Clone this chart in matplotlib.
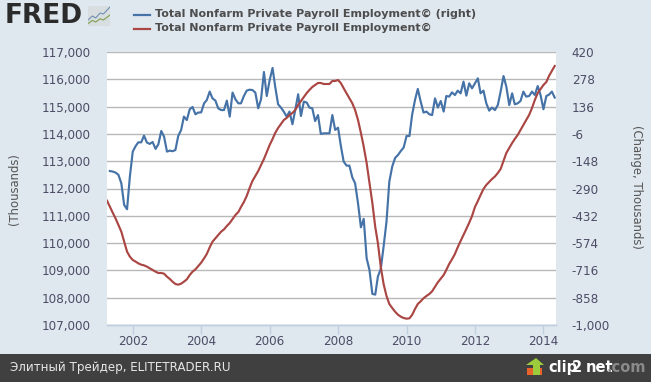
import matplotlib
matplotlib.use("Agg")
import matplotlib.pyplot as plt
import matplotlib.dates as mdates
from matplotlib.patches import Rectangle, Circle, Polygon
from matplotlib.ticker import FuncFormatter
import pandas as pd

W, H = 651, 382

# monthly levels, thousands (left axis), from Apr 2001
level = [111554, 111335, 111115, 110907, 110663, 110419, 110052, 109686, 109503, 109381,
         109320, 109259, 109210, 109185, 109137, 109076, 109015, 108953, 108905, 108905,
         108880, 108770, 108685, 108587, 108502, 108477, 108514, 108587, 108673, 108831,
         108953, 109039, 109161, 109283, 109442, 109601, 109845, 110052, 110175, 110297,
         110419, 110504, 110627, 110736, 110883, 111030, 111140, 111322, 111506, 111726,
         112018, 112275, 112458, 112641, 112861, 113081, 113337, 113594, 113814, 114035,
         114216, 114363, 114509, 114583, 114692, 114766, 114876, 115059, 115205, 115352,
         115498, 115608, 115718, 115791, 115865, 115865, 115828, 115828, 115828, 115938,
         115938, 115975, 115854, 115671, 115487, 115304, 115121, 114876, 114509, 114033,
         113531, 112934, 112202, 111469, 110590, 110004, 109125, 108502, 108063, 107769,
         107623, 107487, 107378, 107304, 107257, 107231, 107246, 107367, 107586, 107769,
         107868, 107978, 108063, 108136, 108235, 108403, 108564, 108696, 108832, 109015,
         109235, 109407, 109601, 109846, 110077, 110297, 110517, 110748, 110993, 111323,
         111542, 111762, 111982, 112129, 112238, 112348, 112440, 112568, 112715, 113008,
         113301, 113484, 113667, 113814, 113960, 114143, 114326, 114509, 114692, 114949,
         115242, 115498, 115645, 115791, 115901, 116121, 116304, 116487]

# monthly change, thousands (right axis), from May 2001
change = [-199, -202, -207, -219, -263, -375, -398, -228, -98, -69, -50, -50, -15, -51, -58,
          -48, -84, -60, 9, -20, -98, -93, -96, -90, -17, 14, 84, 66, 122, 134, 96, 105, 106,
          153, 170, 214, 179, 167, 127, 118, 118, 167, 84, 209, 174, 153, 153, 191, 219, 224,
          222, 209, 127, 174, 316, 191, 274, 337, 240, 148, 131, 110, 84, 110, 44, 118, 200,
          87, 162, 157, 131, 127, 61, 92, -6, -3, -3, -3, 92, 15, 26, -72, -150, -171, -171,
          -232, -263, -367, -492, -448, -653, -713, -838, -842, -748, -708, -592, -462, -254,
          -176, -131, -116, -95, -77, -17, -17, 92, 170, 228, 162, 105, 110, 96, 92, 179, 131,
          165, 110, 191, 188, 210, 196, 219, 205, 266, 193, 257, 231, 257, 283, 205, 219, 153,
          115, 131, 118, 144, 214, 295, 240, 144, 205, 148, 153, 165, 214, 188, 191, 214, 196,
          243, 196, 122, 191, 198, 214, 183]

left_ticks = [107000, 108000, 109000, 110000, 111000, 112000, 113000, 114000, 115000, 116000, 117000]
right_ticks = [-1000, -858, -716, -574, -432, -290, -148, -6, 136, 278, 420]
years = [2002, 2004, 2006, 2008, 2010, 2012, 2014]
name_right = "Total Nonfarm Private Payroll Employment© (right)"
name_left = "Total Nonfarm Private Payroll Employment©"

level_dates = pd.date_range("2001-04-01", periods=len(level), freq="MS")
change_dates = pd.date_range("2001-05-01", periods=len(change), freq="MS")

BG = "#dfe7ef"
BLUE = "#4572a7"
RED = "#aa4643"
GRID = "#b8b8b8"
AXIS = "#c0d0e0"
TXT = "#4d4d66"


def fx(x):
    return x / W


def fy(y):
    return 1 - y / H


fig = plt.figure(figsize=(W / 100, H / 100), dpi=100, facecolor=BG)

# ax_r holds the blue series and sits underneath so red is on top
ax_r = fig.add_axes([fx(107), fy(325), fx(556) - fx(107), fy(52) - fy(325)])
ax = ax_r.twinx()
ax_r.yaxis.tick_right()
ax.yaxis.tick_left()
ax.set_zorder(ax_r.get_zorder() + 1)
ax.patch.set_visible(False)
ax_r.set_facecolor("white")

ax_r.plot(change_dates, change, color=BLUE, lw=1.55, solid_joinstyle="round")
ax.plot(level_dates, level, color=RED, lw=1.55, solid_joinstyle="round")

ax.set_ylim(107000, 117000)
ax_r.set_ylim(-1000, 420)
ax.set_xlim(pd.Timestamp("2001-04-01"), pd.Timestamp("2014-05-15"))

ax.set_yticks(left_ticks)
ax.yaxis.set_major_formatter(FuncFormatter(lambda v, p: f"{int(v):,}"))
ax_r.set_yticks(right_ticks)
ax_r.set_yticklabels([f"{v:,}" for v in right_ticks])
ax.tick_params(axis="y", length=0, pad=11.5, labelsize=8.65, labelcolor=TXT)
ax_r.tick_params(axis="y", length=0, pad=11.3, labelsize=8.65, labelcolor=TXT)

ax_r.set_xticks([pd.Timestamp(f"{y}-01-01") for y in years])
ax_r.xaxis.set_major_formatter(mdates.DateFormatter("%Y"))
ax_r.tick_params(axis="x", length=6.3, width=1, color=AXIS, pad=1, labelsize=8.65, labelcolor=TXT)
ax.tick_params(axis="x", bottom=False, labelbottom=False)

ax_r.grid(axis="y", color=GRID, lw=1)
ax_r.set_axisbelow(True)
for a in (ax, ax_r):
    for s in ("top", "left", "right"):
        a.spines[s].set_visible(False)
    a.spines["bottom"].set_color(AXIS)
    a.spines["bottom"].set_linewidth(1)

fig.text(fx(15), fy(189), "(Thousands)", rotation=90, ha="center", va="center", fontsize=8.4, color="#555555")
fig.text(fx(637), fy(187), "(Change, Thousands)", rotation=270, ha="center", va="center", fontsize=8.4, color="#555555")

# legend, drawn by hand like the original header
fig.add_artist(plt.Line2D([fx(134), fx(150)], [fy(14.5), fy(14.5)], color=BLUE, lw=1.6))
fig.add_artist(plt.Line2D([fx(134), fx(150)], [fy(28.5), fy(28.5)], color=RED, lw=1.6))
fig.text(fx(155), fy(13.5), name_right, fontsize=8.05, fontweight="bold", color="#4d4d4d", va="center")
fig.text(fx(155), fy(27.5), name_left, fontsize=8.05, fontweight="bold", color="#4d4d4d", va="center")

# FRED logo
fig.text(fx(5), fy(16), "FRED", fontsize=19, fontweight="bold", color="#2b2b2b", va="center")
icon = fig.add_axes([fx(88), fy(26), fx(22), fy(6) - fy(26)])
icon.set_facecolor("#d5dadd")
icon.axis("off")
icon.add_patch(Rectangle((0, 0), 1, 1, color="#d8dde0", transform=icon.transAxes))
icon.plot([0, .2, .35, .55, .7, 1], [.3, .5, .4, .65, .6, .95], color="#6f8fb0", lw=.8)
icon.plot([0, .2, .35, .55, .7, 1], [.12, .28, .2, .36, .3, .55], color="#7f9f50", lw=.8)
icon.set_xlim(0, 1)
icon.set_ylim(0, 1)

# footer
fig.add_artist(Rectangle((0, 0), 1, fy(354), transform=fig.transFigure, color="#404040", lw=0))
fig.text(fx(10), fy(367.5), "Элитный Трейдер, ELITETRADER.RU", fontsize=8.6, color="#e6e6e6", va="center")

# clip2net mark
fig.add_artist(Polygon([(fx(527), fy(375)), (fx(527), fy(368)), (fx(542), fy(368)), (fx(542), fy(375))],
                       transform=fig.transFigure, color="#e8622a", lw=0))
fig.add_artist(Polygon([(fx(526), fy(365)), (fx(536), fy(358)), (fx(544), fy(365)), (fx(540), fy(365)),
                        (fx(540), fy(375)), (fx(533), fy(375)), (fx(533), fy(365))],
                       transform=fig.transFigure, color="#9ccb3b", lw=0))
fig.text(fx(548), fy(367.5), "clip", fontsize=10.5, fontweight="bold", color="white", va="center")
circle_ax = fig.add_axes([0, 0, 1, 1], facecolor="none")
circle_ax.axis("off")
circle_ax.set_xlim(0, W)
circle_ax.set_ylim(H, 0)
circle_ax.add_patch(Circle((577, 368), 7.8, color="#f08a1d", lw=0))
fig.text(fx(577), fy(368), "2", fontsize=10.5, fontweight="bold", color="white", va="center", ha="center", zorder=5)
fig.text(fx(586), fy(367.5), "net", fontsize=10.5, fontweight="bold", color="white", va="center")
fig.text(fx(607), fy(367.5), ".com", fontsize=10.5, fontweight="bold", color="#8a8a8a", va="center")

fig.savefig("out.png", dpi=100, facecolor=BG)
